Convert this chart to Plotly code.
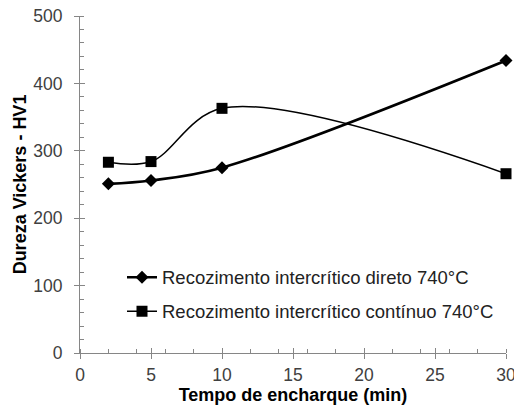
import plotly.graph_objects as go

tempo = [2, 5, 10, 30]
direto = [251, 256, 275, 434]
continuo = [283, 284, 363, 266]
nome_direto = "Recozimento intercrítico direto 740°C"
nome_continuo = "Recozimento intercrítico contínuo 740°C"

FONT = "Liberation Sans, Arial, sans-serif"
AX = "#868686"

fig = go.Figure()
fig.add_trace(go.Scatter(
    x=tempo, y=direto, name=nome_direto, mode="lines+markers",
    line=dict(color="black", width=2.6, shape="spline", smoothing=1),
    marker=dict(symbol="diamond", size=10, color="black"),
    cliponaxis=False, legendgroup="a",
))
fig.add_trace(go.Scatter(
    x=tempo, y=continuo, name=nome_continuo, mode="lines+markers",
    line=dict(color="black", width=1.5, shape="spline", smoothing=1),
    marker=dict(symbol="square", size=11, color="black"),
    cliponaxis=False, legendgroup="b",
))
# invisible helper trace for overlay axes (inner half of crossing major ticks)
fig.add_trace(go.Scatter(x=[0, 30], y=[0, 500], xaxis="x2", yaxis="y2", mode="markers",
                         marker=dict(opacity=0), showlegend=False, hoverinfo="skip"))

fig.update_layout(
    width=514, height=410,
    margin=dict(l=80, r=8, t=16, b=57, autoexpand=False),
    paper_bgcolor="white", plot_bgcolor="white",
    font=dict(family=FONT, size=17.5, color="#404040"),
    showlegend=True,
    legend=dict(x=0.0986, y=0.173, xanchor="left", yanchor="middle",
                bgcolor="rgba(0,0,0,0)", font=dict(size=18.5, color="#222"),
                tracegroupgap=7, traceorder="grouped"),
    xaxis=dict(type="linear", range=[0, 30], tickmode="linear", tick0=0, dtick=5,
               showgrid=False, zeroline=False, showline=True, linecolor=AX, linewidth=1,
               ticks="outside", ticklen=5, tickcolor=AX, automargin=False,
               ticklabeloverflow="allow",
               minor=dict(ticks="inside", ticklen=4, tickcolor=AX, dtick=2, tick0=0, showgrid=False),
               title=dict(text="<b>Tempo de encharque (min)</b>", font=dict(size=18, color="black"), standoff=3),
               ticklabelstandoff=1),
    yaxis=dict(type="linear", range=[0, 500], tickmode="linear", tick0=0, dtick=100,
               showgrid=False, zeroline=False, showline=True, linecolor=AX, linewidth=1,
               ticks="outside", ticklen=5, tickcolor=AX, automargin=False,
               ticklabeloverflow="allow",
               minor=dict(ticks="inside", ticklen=4, tickcolor=AX, dtick=20, tick0=0, showgrid=False),
               title=dict(text="<b>Dureza Vickers - HV1</b>", font=dict(size=18, color="black"), standoff=1),
               ticklabelstandoff=8),
    xaxis2=dict(type="linear", overlaying="x", range=[0, 30], tickmode="linear", tick0=0, dtick=5,
                showgrid=False, zeroline=False, showline=False, showticklabels=False,
                ticks="inside", ticklen=5, tickcolor=AX, side="bottom", anchor="y2", automargin=False),
    yaxis2=dict(type="linear", overlaying="y", range=[0, 500], tickmode="linear", tick0=0, dtick=100,
                showgrid=False, zeroline=False, showline=False, showticklabels=False,
                ticks="inside", ticklen=5, tickcolor=AX, side="left", anchor="x2", automargin=False),
)

fig.write_html("out.html", config={"displayModeBar": False},
               post_script="document.body.style.margin='0px';")
